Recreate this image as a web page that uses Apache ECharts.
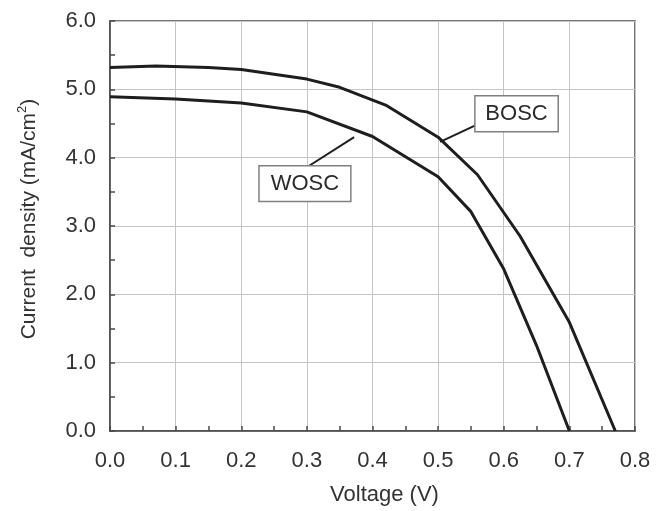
<!DOCTYPE html>
<html><head><meta charset="utf-8">
<script src="https://cdn.jsdelivr.net/npm/echarts@6/dist/echarts.min.js"></script>
<style>html,body{margin:0;padding:0;background:#fff}#c{width:664px;height:511px}</style>
</head><body><div id="c"></div>
<script>
const xTicks = [0, 0.1, 0.2, 0.3, 0.4, 0.5, 0.6, 0.7, 0.8];
const yTicks = [0, 1, 2, 3, 4, 5, 6];
const boscV = [0, 0.07, 0.15, 0.2, 0.3, 0.35, 0.42, 0.5, 0.56, 0.625, 0.70, 0.77];
const boscJ = [5.32, 5.34, 5.32, 5.29, 5.15, 5.03, 4.77, 4.30, 3.75, 2.85, 1.59, 0.0];
const woscV = [0, 0.1, 0.2, 0.3, 0.4, 0.5, 0.55, 0.6, 0.65, 0.70];
const woscJ = [4.89, 4.86, 4.80, 4.67, 4.31, 3.72, 3.21, 2.37, 1.25, 0.0];
// annotations in data coordinates
const notes = [
  {text: 'BOSC', box: [0.556, 4.905, 0.683, 4.38], from: [0.503, 4.23], to: [0.556, 4.47]},
  {text: 'WOSC', box: [0.227, 3.88, 0.367, 3.36], from: [0.300, 3.86], to: [0.372, 4.30]}
];

const chart = echarts.init(document.getElementById('c'));
const font = '"Liberation Sans", Arial, sans-serif';
const pair = (a, b) => a.map((v, i) => [v, b[i]]);
chart.setOption({
  animation: false,
  grid: {left: 110, right: 29, top: 21, bottom: 79, show: true, borderColor: '#4a4a4a', borderWidth: 1.5},
  xAxis: {
    type: 'value', min: 0, max: 0.8, interval: 0.1,
    axisLine: {lineStyle: {color: '#4a4a4a', width: 1.5}},
    axisTick: {inside: true, length: 5, lineStyle: {color: '#4a4a4a', width: 1.5}},
    minorTick: {show: true, splitNumber: 2, length: 5, lineStyle: {color: '#4a4a4a', width: 1.5}},
    splitLine: {show: true, lineStyle: {color: '#c4c4c4', width: 1}},
    axisLabel: {color: '#333', fontSize: 22, fontFamily: font, margin: 19,
      formatter: v => v.toFixed(1)},
    name: 'Voltage (V)', nameLocation: 'middle', nameGap: 53,
    nameTextStyle: {color: '#333', fontSize: 22, fontFamily: font, padding: [0, 0, 0, 24]}
  },
  yAxis: {
    type: 'value', min: 0, max: 6, interval: 1,
    axisLine: {show: true, lineStyle: {color: '#4a4a4a', width: 1.5}},
    axisTick: {show: true, inside: true, length: 5, lineStyle: {color: '#4a4a4a', width: 1.5}},
    minorTick: {show: true, splitNumber: 2, length: 5, lineStyle: {color: '#4a4a4a', width: 1.5}},
    splitLine: {show: true, lineStyle: {color: '#c4c4c4', width: 1}},
    axisLabel: {color: '#333', fontSize: 22, fontFamily: font, margin: 14,
      formatter: v => v.toFixed(1)},
    name: '{a|Current  density (mA/cm}{s|2}{a|)}', nameLocation: 'middle', nameGap: 70,
    nameTextStyle: {padding: [0, 0, 0, 14], rich: {
      a: {color: '#333', fontSize: 21, fontFamily: font, lineHeight: 24, verticalAlign: 'bottom'},
      s: {color: '#333', fontSize: 13, fontFamily: font, lineHeight: 24, verticalAlign: 'top', padding: [0, 0, 10, 0]}
    }}
  },
  series: [
    {type: 'line', name: 'BOSC', data: pair(boscV, boscJ), showSymbol: false,
      lineStyle: {color: '#1e1e1e', width: 3}},
    {type: 'line', name: 'WOSC', data: pair(woscV, woscJ), showSymbol: false,
      lineStyle: {color: '#1e1e1e', width: 3}}
  ]
});

function drawNotes() {
  const els = [];
  notes.forEach(n => {
    const p1 = chart.convertToPixel({gridIndex: 0}, [n.box[0], n.box[1]]);
    const p2 = chart.convertToPixel({gridIndex: 0}, [n.box[2], n.box[3]]);
    const f = chart.convertToPixel({gridIndex: 0}, n.from);
    const t = chart.convertToPixel({gridIndex: 0}, n.to);
    els.push({type: 'line', shape: {x1: f[0], y1: f[1], x2: t[0], y2: t[1]},
      style: {stroke: '#1e1e1e', lineWidth: 2}, z: 10});
    els.push({type: 'rect', shape: {x: p1[0], y: p1[1], width: p2[0] - p1[0], height: p2[1] - p1[1]},
      style: {fill: '#fff', stroke: '#808080', lineWidth: 1.5}, z: 11});
    els.push({type: 'text', x: (p1[0] + p2[0]) / 2, y: (p1[1] + p2[1]) / 2,
      style: {text: n.text, fontSize: 22, fontFamily: font, fill: '#2a2a2a', align: 'center', verticalAlign: 'middle'}, z: 12});
  });
  chart.setOption({graphic: els});
}
drawNotes();
</script>
</body></html>
